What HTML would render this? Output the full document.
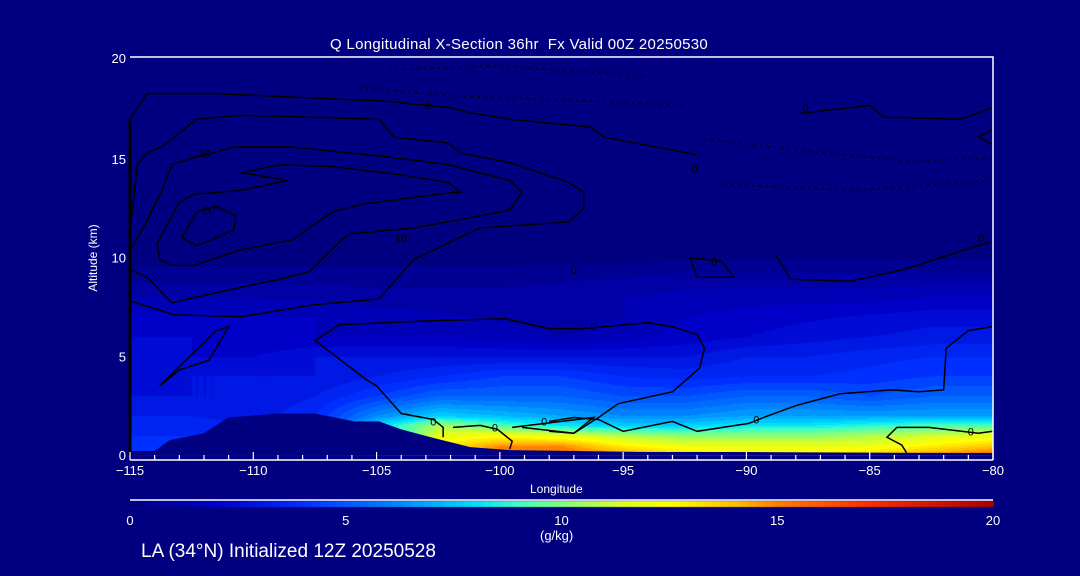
<!DOCTYPE html>
<html><head><meta charset="utf-8"><style>
body{margin:0;background:#000080;width:1080px;height:576px;overflow:hidden;position:relative;font-family:"Liberation Sans",sans-serif;color:#fff}
canvas,svg{position:absolute;left:0;top:0}
.t{position:absolute;white-space:nowrap;color:#fff}
</style></head><body>
<canvas id="cv" width="1080" height="576"></canvas>
<svg id="sv" width="1080" height="576"></svg>
<div class="t" style="left:330px;top:36px;font-size:15px;letter-spacing:0.3px">Q Longitudinal X-Section 36hr&nbsp;&nbsp;Fx Valid 00Z 20250530</div>
<div class="t" style="left:93px;top:258px;font-size:12px;transform:translate(-50%,-50%) rotate(-90deg)">Altitude (km)</div>
<div class="t" style="left:530px;top:482px;font-size:12px">Longitude</div>
<div class="t" style="left:540px;top:528px;font-size:13px">(g/kg)</div>
<div class="t" style="left:141px;top:541px;font-size:19px">LA (34°N) Initialized 12Z 20250528</div>
<script>
const lonTicks=[-115,-110,-105,-100,-95,-90,-85,-80];
const altTicks=[0,5,10,15,20];
const cbTicks=[0,5,10,15,20];
const gridLons=[-115,-112.5,-110,-107.5,-105,-102.5,-100,-97.5,-95,-92.5,-90,-87.5,-85,-82.5,-80];
const gridAlts=[0,0.5,1,1.5,2,3,4,5,6,7,8,9,10,20];
const qValues=[
[4,4,4,4,7,12,16,16,15,14,13,13,14,15,16],
[4,4,4,4,7,13,15,15,13,12,12,12,12,13,14],
[4,4,4,4,7,12,12.5,12,11,10.5,10.5,10.5,11,11.5,12],
[3.8,3.8,3.5,4,8,11,9.5,8.5,8,8,8.5,8.5,9,9.5,9.5],
[3.5,3.5,3.2,4,6.5,8,7.5,7,6.5,6.5,7,7,7,7,7],
[3,3,3,3.5,4.5,5.5,5.5,5.5,5,5,5.5,5.5,5,5.5,5.5],
[2.5,3,3,3,3.5,4,4.5,4.5,4,3.8,4,4,4.2,4.5,4.5],
[2.5,2.5,2.5,3,3,3,3,3,3,3,3.5,3.5,3.8,4,4],
[2.5,2.5,2,2,2,2,1.8,1.5,1.8,2.2,2.5,2.8,3,3.2,3.2],
[2.2,2.2,2,2,1.8,1.6,1.4,1.2,1.5,2,2.2,2.4,2.6,2.8,2.8],
[1.5,1.5,1.5,1.4,1.2,1.2,1.2,1.3,1.5,1.7,1.8,1.8,1.8,2,2],
[0.8,0.8,0.8,0.8,0.8,0.8,0.8,0.9,1,1.2,1.2,1.2,1.2,1.2,1.2],
[0.3,0.3,0.3,0.3,0.3,0.3,0.3,0.3,0.3,0.4,0.4,0.4,0.4,0.4,0.4],
[0,0,0,0,0,0,0,0,0,0,0,0,0,0,0]];
const terrainLons=[-115,-114,-113.4,-112,-111,-109,-107.5,-105.9,-104.9,-104,-102.8,-101.2,-99.6,-97,-94,-90,-85,-80];
const terrainAlts=[0.2,0.2,0.75,1.1,1.9,2.1,2.1,1.7,1.7,1.3,0.9,0.4,0.25,0.2,0.15,0.15,0.12,0.1];
const solidContours=[
[[-115,17.0],[-114.3,18.3],[-111.5,18.3],[-104.5,17.9],[-102.1,17.6],[-101.1,17.3],[-99.6,17.0],[-96.3,16.6],[-95.8,16.1],[-92.0,15.2]],
[[-115,11.4],[-114.7,14.7],[-114.3,15.3],[-113.7,15.6],[-112.3,17.0],[-110.5,17.2],[-104.9,17.0],[-104.3,16.1],[-102.1,15.8],[-101.6,15.3],[-99.6,14.8],[-97.2,13.8],[-96.6,13.3],[-96.6,12.5],[-97.2,11.8],[-100.8,11.5],[-103.5,9.9],[-104.9,7.9],[-107.6,7.6],[-110.5,7.0],[-113.2,7.1],[-115,7.8]],
[[-115,10.3],[-114.3,11.9],[-113.7,13.4],[-113.3,14.7],[-112.3,15.1],[-110.7,15.6],[-108.5,15.6],[-104.6,15.1],[-102.1,14.7],[-99.6,13.9],[-99.1,13.3],[-99.6,12.4],[-101.7,11.9],[-103.5,11.5],[-106.1,11.2],[-106.4,10.9],[-107.7,9.3],[-108.6,9.0],[-112.3,8.0],[-113.3,7.7],[-114.3,9.0],[-115,9.4]],
[[-110.5,14.3],[-108.6,13.9],[-110.5,13.4],[-112.4,13.2],[-113,12.8],[-113.9,10.7],[-113.8,9.9],[-113.3,9.6],[-112.4,9.6],[-110.5,10.4],[-108.4,10.9],[-106.8,12.3],[-105.6,12.7],[-101.9,13.3],[-101.6,13.3],[-102.1,13.8],[-104.1,14.2],[-106.8,14.6],[-108.9,14.7],[-110.5,14.3]],
[[-112.9,11.0],[-112.3,12.3],[-111.5,12.6],[-110.7,12.1],[-110.8,11.4],[-111.5,11.0],[-112.3,10.6],[-112.9,11.0]],
[[-113.8,3.5],[-111.5,6.3],[-111,6.5],[-111.8,4.8],[-113,4.3],[-113.8,3.5]],
[[-102.3,0.9],[-102.3,1.4],[-102.7,1.8],[-104,2.1],[-105,3.5],[-105.4,3.8],[-107.5,5.8],[-106.5,6.6],[-102.8,6.8],[-99.8,6.9],[-98,6.4],[-96.6,6.4],[-94,6.7],[-93,6.5],[-92,6.1],[-91.7,5.4],[-91.9,4.4],[-93,3.2],[-95.2,2.6],[-96,1.9],[-97,1.1],[-98,1.2]],
[[-101.9,1.4],[-100.8,1.5],[-100.1,1.3],[-99.5,0.7],[-99.6,0.3]],
[[-99.5,1.4],[-96.2,1.9],[-97,1.1],[-99.1,1.4]],
[[-98,1.7],[-97,1.9],[-96,1.8],[-95,1.2],[-93,1.7],[-92,1.2],[-89.9,1.6],[-89.3,1.9],[-88,2.5],[-86.2,3.1],[-84.1,3.3],[-83,3.2],[-82,3.3],[-81.9,5.4],[-81,6.3],[-80,6.5]],
[[-80,1.2],[-80.6,1.1],[-82.6,1.4],[-83.9,1.4],[-84.3,0.9],[-83.7,0.5],[-83.5,0.1]],
[[-88.8,10.1],[-88.2,8.9],[-85.8,8.8],[-83.6,9.4],[-80.1,10.8]],
[[-92.3,10.0],[-92,9.0],[-90.5,9.0],[-91,9.8],[-92.3,10.0]],
[[-87.8,17.3],[-85,17.7],[-84.4,17.1],[-81.3,17.0],[-80,17.6]],
[[-80,16.5],[-80.6,16.1],[-80,15.7]],
[[-115,17.0],[-115,0]]];
const dottedContours=[
[[-105.7,18.6],[-102.1,18.2],[-95.9,17.9],[-92.6,17.7]],
[[-104.5,19.5],[-100,19.7],[-94,19.2]],
[[-91.7,16.0],[-87.6,15.4],[-83.6,14.9],[-80.1,15.0]],
[[-90.9,13.7],[-85.6,13.4],[-80.1,13.9]]];
const contourLabels=[[-102.9,17.7,'0'],[-112,15.3,'10'],[-111.8,12.4,'20'],[-104,11,'10'],[-97,9.4,'0'],[-96.2,6.5,'0'],[-102.7,1.7,'0'],[-100.2,1.4,'0'],[-98.2,1.7,'0'],[-89.6,1.8,'0'],[-80.9,1.2,'0'],[-87.6,17.6,'0'],[-91.3,9.8,'0'],[-80.5,11,'0'],[-92.1,14.5,'0']];

const X0=130,X1=993,Y0=455,Y1=60;
const xs=l=>X0+(l+115)/35*(X1-X0);
const ys=a=>Y0-a/20*(Y0-Y1);
const cstops=[[0,[0,0,128]],[2,[0,0,200]],[4,[0,48,255]],[6,[0,128,255]],[8,[0,224,255]],[9,[64,255,192]],[10,[128,255,128]],[11.5,[224,255,32]],[12.5,[255,255,0]],[14,[255,192,0]],[15,[255,128,0]],[17,[255,48,0]],[20,[170,0,0]]];
function cmap(v){v=Math.max(0,Math.min(20,v));for(let i=1;i<cstops.length;i++){if(v<=cstops[i][0]){const a=cstops[i-1],b=cstops[i],t=(v-a[0])/(b[0]-a[0]);return a[1].map((c,k)=>Math.round(c+(b[1][k]-c)*t));}}return cstops[cstops.length-1][1];}
function idx(arr,v){for(let i=0;i<arr.length-1;i++)if(v<=arr[i+1])return i;return arr.length-2;}
function q(lon,alt){const i=idx(gridLons,lon),j=idx(gridAlts,alt);const tx=(lon-gridLons[i])/(gridLons[i+1]-gridLons[i]),ty=(alt-gridAlts[j])/(gridAlts[j+1]-gridAlts[j]);
const a=qValues[j][i],b=qValues[j][i+1],c=qValues[j+1][i],d=qValues[j+1][i+1];return (a*(1-tx)+b*tx)*(1-ty)+(c*(1-tx)+d*tx)*ty;}
const cv=document.getElementById('cv'),ctx=cv.getContext('2d');
ctx.fillStyle='#000080';ctx.fillRect(0,0,1080,576);
const W=X1-X0,H=Y0-Y1,img=ctx.createImageData(W,H);
for(let py=0;py<H;py++){const alt=(Y0-(Y1+py))/(Y0-Y1)*20;for(let px=0;px<W;px++){const lon=-115+px/W*35;let v=q(lon,alt);v=Math.floor(v/0.5)*0.5;const c=cmap(v);const o=(py*W+px)*4;img.data[o]=c[0];img.data[o+1]=c[1];img.data[o+2]=c[2];img.data[o+3]=255;}}
ctx.putImageData(img,X0,Y1);
for(let px=0;px<=X1-X0;px++){const c=cmap(px/(X1-X0)*20);ctx.fillStyle=`rgb(${c[0]},${c[1]},${c[2]})`;ctx.fillRect(X0+px,501,1,6);}
const NS='http://www.w3.org/2000/svg',sv=document.getElementById('sv');
function mk(tag,attrs){const e=document.createElementNS(NS,tag);for(const k in attrs)e.setAttribute(k,attrs[k]);sv.appendChild(e);return e;}
let tp=`M${xs(-115)},${Y0} `+terrainLons.map((l,i)=>`L${xs(l)},${ys(terrainAlts[i])}`).join(' ')+` L${xs(-80)},${Y0} Z`;
const terr=mk('path',{d:tp,fill:'#000080'});


solidContours.forEach((c,i)=>{const p=mk('polyline',{points:c.map(p=>xs(p[0])+','+ys(p[1])).join(' '),fill:'none',stroke:'#000',"stroke-width":i===solidContours.length-1?3:1.5});

});
dottedContours.forEach(c=>{const p=mk('polyline',{points:c.map(p=>xs(p[0])+','+ys(p[1])).join(' '),fill:'none',stroke:'#000',"stroke-width":1.5,"stroke-dasharray":'2 5'});

});
contourLabels.forEach(l=>{const t=mk('text',{x:xs(l[0]),y:ys(l[1])+4,fill:'#000',"font-size":11,"text-anchor":'middle',"font-family":'Liberation Sans, sans-serif'});t.textContent=l[2];

});
const fr=mk('path',{d:`M${X0},${Y1-3} L${X1},${Y1-3} L${X1},${Y0+5} M${X0},${Y0+5} L${X1},${Y0+5}`,stroke:'#fff',"stroke-width":1.5,fill:'none'});


for(let l=-115;l<=-80;l++){const maj=l%5===0;const tk=mk('line',{x1:xs(l),x2:xs(l),y1:Y0+5,y2:Y0+5-(maj?8:5),stroke:'#fff',"stroke-width":1.2});

}
lonTicks.forEach(l=>{const t=mk('text',{x:xs(l),y:475,fill:'#fff',"font-size":13,"text-anchor":'middle',"font-family":'Liberation Sans, sans-serif'});t.textContent=(l<0?'\u2212':'')+Math.abs(l);

});
altTicks.forEach(a=>{const t=mk('text',{x:126,y:ys(a)+5+(a===20?-2:0),fill:'#fff',"font-size":13,"text-anchor":'end',"font-family":'Liberation Sans, sans-serif'});t.textContent=a;

});
const cbl=mk('line',{x1:X0,x2:X1,y1:500,y2:500,stroke:'#fff',"stroke-width":1.5});


cbTicks.forEach(v=>{const t=mk('text',{x:X0+v/20*(X1-X0),y:525,fill:'#fff',"font-size":13,"text-anchor":'middle',"font-family":'Liberation Sans, sans-serif'});t.textContent=v;

});
</script>
</body></html>
